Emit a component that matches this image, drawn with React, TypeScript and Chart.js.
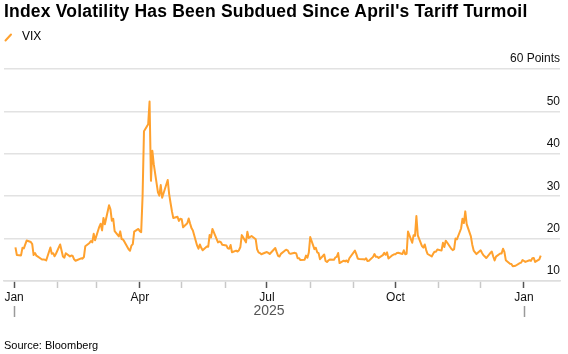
import React, { useEffect, useRef } from "react";
import { Chart, registerables } from "chart.js";

Chart.register(...registerables);

// ---------- data ----------
const TITLE = "Index Volatility Has Been Subdued Since April's Tariff Turmoil";
const SERIES_NAME = "VIX";
const SOURCE = "Source: Bloomberg";
const Y_UNIT = "Points";
const YEAR_LABEL = "2025";

const START_DATE = "2025-01-02";
const HOLIDAYS = [
  "2025-01-09", "2025-01-20", "2025-02-17", "2025-04-18", "2025-05-26",
  "2025-06-19", "2025-07-04", "2025-09-01", "2025-11-27", "2025-12-25",
  "2026-01-01",
];

const vixJan25 = [17.93, 16.13, 16.04, 17.82, 17.7, 19.54, 19.19, 18.71, 16.12, 16.6, 15.97, 15.06, 15.1, 15.02, 14.85, 17.9, 16.41, 16.56, 15.84, 16.43];
const vixFeb25 = [18.62, 17.21, 15.77, 15.5, 16.54, 15.81, 16.02, 15.89, 15.1, 14.77, 15.35, 15.27, 15.66, 18.21, 18.98, 19.43, 19.1, 21.13, 19.63];
const vixMar25 = [22.78, 23.51, 21.93, 24.87, 23.37, 27.86, 26.92, 24.23, 24.66, 21.77, 20.51, 21.7, 19.9, 19.8, 19.28, 17.48, 17.15, 18.33, 18.69, 21.65, 22.28];
const vixApr25 = [21.77, 21.51, 30.02, 45.31, 46.98, 52.33, 33.62, 40.72, 37.56, 30.89, 30.12, 32.64, 29.65, 33.82, 30.57, 28.45, 26.47, 24.84, 25.15, 24.17, 24.7];
const vixMay25 = [24.6, 22.68, 23.64, 24.76, 23.55, 22.48, 21.9, 18.39, 17.61, 18.62, 17.83, 17.24, 18.14, 18.09, 20.87, 20.28, 22.29, 19.11, 19.31, 19.18, 18.57];
const vixJun25 = [18.36, 17.69, 17.61, 18.48, 16.77, 17.16, 16.95, 17.26, 18.02, 20.82, 19.11, 21.6, 20.14, 20.62, 19.83, 17.48, 16.76, 16.59, 16.32, 16.73];
const vixJul25 = [16.83, 16.64, 16.38, 17.79, 16.81, 15.94, 15.78, 16.4, 17.2, 17.38, 17.16, 16.52, 16.41, 16.65, 16.5, 15.37, 15.39, 14.93, 15.03, 15.98, 15.48, 16.72];
const vixAug25 = [20.38, 17.52, 17.85, 16.77, 16.57, 15.15, 16.25, 14.73, 14.49, 14.83, 15.09, 14.99, 15.57, 15.69, 16.6, 14.22, 14.79, 14.62, 14.85, 14.43, 15.36];
const vixSep25 = [17.17, 16.35, 15.3, 15.18, 15.11, 15.04, 15.35, 14.71, 14.76, 15.69, 16.36, 15.72, 15.7, 15.45, 16.1, 16.64, 16.18, 16.74, 15.29, 16.12, 16.28];
const vixOct25 = [16.29, 16.63, 16.65, 16.37, 17.24, 16.3, 16.43, 21.66, 19.03, 20.81, 20.64, 25.31, 20.78, 18.23, 17.87, 18.6, 17.3, 16.37, 15.79, 16.42, 16.92, 16.91, 17.44];
const vixNov25 = [17.17, 19.0, 18.01, 19.5, 19.08, 17.6, 17.28, 17.51, 20.0, 19.83, 22.38, 24.69, 23.66, 26.42, 23.43, 20.52, 18.56, 17.19, 16.35];
const vixDec25 = [17.24, 16.59, 16.08, 15.78, 15.41, 16.66, 16.93, 15.77, 14.85, 15.74, 16.5, 16.48, 17.62, 16.87, 14.91, 14.08, 14.0, 13.47, 13.6, 14.2, 14.33, 14.95];
const vixJan26 = [14.51, 14.9, 14.75, 15.38, 15.45, 14.49, 15.12, 15.98];

const MONTH_TICKS = [
  "2025-01-01", "2025-02-01", "2025-03-01", "2025-04-01", "2025-05-01", "2025-06-01", "2025-07-01",
  "2025-08-01", "2025-09-01", "2025-10-01", "2025-11-01", "2025-12-01", "2026-01-01",
];
const MONTH_LABELS = ["Jan", "", "", "Apr", "", "", "Jul", "", "", "Oct", "", "", "Jan"];
const YEAR_BOUNDS = ["2025-01-01", "2026-01-01"];
const Y_TICKS = [10, 20, 30, 40, 50, 60];

// ---------- helpers ----------
const DAY = 86400000;
const EPOCH = Date.UTC(2025, 0, 1);
const parse = (s: string) => {
  const [y, m, d] = s.split("-").map(Number);
  return Date.UTC(y, m - 1, d);
};
const dayOffset = (s: string) => (parse(s) - EPOCH) / DAY;

const allValues = [
  ...vixJan25, ...vixFeb25, ...vixMar25, ...vixApr25, ...vixMay25, ...vixJun25,
  ...vixJul25, ...vixAug25, ...vixSep25, ...vixOct25, ...vixNov25, ...vixDec25, ...vixJan26,
];

function buildPoints() {
  const hol = new Set(HOLIDAYS.map(parse));
  const pts: { x: number; y: number }[] = [];
  let t = parse(START_DATE);
  let i = 0;
  while (i < allValues.length) {
    const wd = new Date(t).getUTCDay();
    if (wd !== 0 && wd !== 6 && !hol.has(t)) {
      pts.push({ x: (t - EPOCH) / DAY, y: allValues[i] });
      i++;
    }
    t += DAY;
  }
  return pts;
}

const FONT = "'Liberation Sans', Arial, Helvetica, sans-serif";
const LINE_COLOR = "#ffa12e";

const yearPlugin = {
  id: "yearMarks",
  afterDraw(chart: any) {
    const { ctx } = chart;
    const x = chart.scales.x;
    const top = x.top;
    ctx.save();
    ctx.strokeStyle = "#9a9a9a";
    ctx.lineWidth = 1.5;
    YEAR_BOUNDS.forEach((d) => {
      const px = Math.round(x.getPixelForValue(dayOffset(d))) + 0.5;
      ctx.beginPath();
      ctx.moveTo(px, top + 25);
      ctx.lineTo(px, top + 36);
      ctx.stroke();
    });
    const mid = (dayOffset(YEAR_BOUNDS[0]) + dayOffset(YEAR_BOUNDS[1])) / 2;
    ctx.fillStyle = "#555";
    ctx.font = `14px ${FONT}`;
    ctx.textAlign = "center";
    ctx.textBaseline = "alphabetic";
    ctx.fillText(YEAR_LABEL, x.getPixelForValue(mid), top + 34);
    ctx.restore();
  },
};

export default function App() {
  const ref = useRef<HTMLCanvasElement | null>(null);

  useEffect(() => {
    if (!ref.current) return;
    const tickVals = MONTH_TICKS.map(dayOffset);
    const chart = new Chart(ref.current, {
      type: "line",
      data: {
        datasets: [
          {
            label: SERIES_NAME,
            data: buildPoints(),
            borderColor: LINE_COLOR,
            backgroundColor: LINE_COLOR,
            borderWidth: 2,
            pointRadius: 0,
            tension: 0,
            borderJoinStyle: "round",
          },
        ],
      },
      options: {
        responsive: false,
        animation: false,
        devicePixelRatio: 1,
        layout: { padding: { left: 4, right: 8, top: 69, bottom: 47.6 } },
        plugins: { legend: { display: false }, tooltip: { enabled: false }, title: { display: false } },
        scales: {
          x: {
            type: "linear",
            min: -7.2,
            max: 390.8,
            afterBuildTicks: (axis: any) => {
              axis.ticks = tickVals.map((v) => ({ value: v }));
            },
            ticks: {
              autoSkip: false,
              maxRotation: 0,
              padding: 2,
              color: "#111",
              font: { size: 12, family: FONT },
              callback: (_v: any, i: number) => MONTH_LABELS[i],
            },
            grid: {
              drawOnChartArea: false,
              drawTicks: true,
              tickLength: 7,
              tickWidth: 1.5,
              tickColor: (c: any) => (MONTH_LABELS[c.index] ? "#555" : "#c8c8c8"),
            },
            border: { display: true, color: "#dedede", width: 1.5 },
          },
          y: {
            type: "linear",
            position: "right",
            min: 10,
            max: 60,
            afterBuildTicks: (axis: any) => {
              axis.ticks = Y_TICKS.map((v) => ({ value: v }));
            },
            ticks: {
              mirror: true,
              padding: 0,
              labelOffset: -10,
              color: "#111",
              font: { size: 12, family: FONT },
              callback: (v: any) => (v === Y_TICKS[Y_TICKS.length - 1] ? `${v} ${Y_UNIT}` : String(v)),
            },
            grid: { color: "#e2e2e2", lineWidth: 1.5, drawTicks: false },
            border: { display: false },
          },
        },
      },
      plugins: [yearPlugin],
    } as any);
    return () => chart.destroy();
  }, []);

  return (
    <div style={{ position: "absolute", left: 0, top: 0, width: 568, height: 354, background: "#fff", overflow: "hidden" }}>
      <canvas ref={ref} width={568} height={354} style={{ position: "absolute", left: 0, top: 0, display: "block" }} />
      <div
        style={{
          position: "absolute", left: 4, top: 1.2, fontFamily: FONT, fontWeight: 700, fontSize: 17.5,
          lineHeight: "20px", letterSpacing: 0.2, color: "#000", whiteSpace: "nowrap",
        }}
      >
        {TITLE}
      </div>
      <svg width={14} height={14} style={{ position: "absolute", left: 3, top: 30 }}>
        <line x1={2.5} y1={10.5} x2={8} y2={4.5} stroke={LINE_COLOR} strokeWidth={2} strokeLinecap="round" />
      </svg>
      <div style={{ position: "absolute", left: 22, top: 28.8, fontFamily: FONT, fontSize: 12, lineHeight: "14px", color: "#000" }}>
        {SERIES_NAME}
      </div>
      <div style={{ position: "absolute", left: 4, top: 338.7, fontFamily: FONT, fontSize: 11, lineHeight: "13px", color: "#000" }}>
        {SOURCE}
      </div>
    </div>
  );
}
